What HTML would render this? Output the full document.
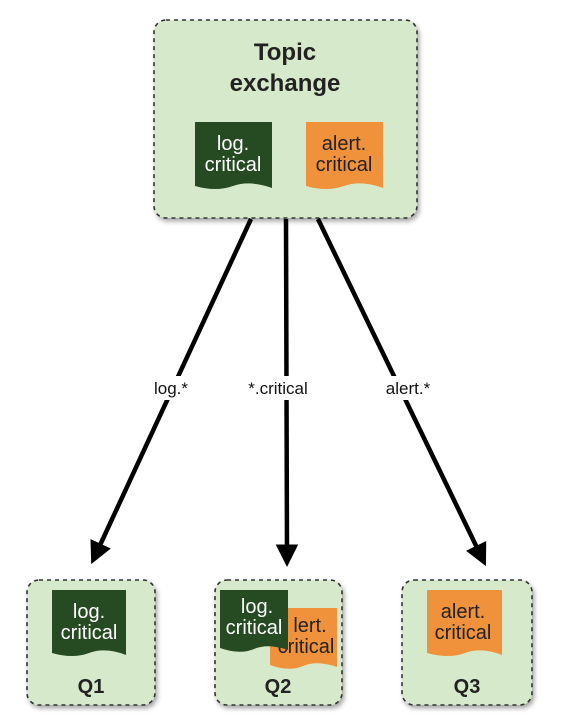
<!DOCTYPE html>
<html><head><style>
body{margin:0;background:#fff;width:570px;height:720px;overflow:hidden}
svg text{font-family:"Liberation Sans",Arial,sans-serif}
</style></head><body>
<svg width="570" height="720" viewBox="0 0 570 720">
<defs>
<filter id="sh" x="-10%" y="-10%" width="130%" height="130%"><feDropShadow dx="2" dy="3" stdDeviation="2.5" flood-color="#000" flood-opacity="0.35"/></filter>
<marker id="ah" markerWidth="5" markerHeight="5" refX="3" refY="2.5" orient="auto" markerUnits="strokeWidth"><path d="M0,0 L5,2.5 L0,5 z" fill="#000"/></marker>
</defs>
<g fill="#d6eacb" stroke="#333" stroke-width="1.6" stroke-dasharray="4,4" filter="url(#sh)">
<rect x="154" y="20" width="263" height="198" rx="12"/>
<rect x="27" y="580" width="128" height="125" rx="12"/>
<rect x="215" y="580" width="127" height="125" rx="12"/>
<rect x="402" y="580" width="130" height="125" rx="12"/>
</g>
<text x="285" y="60" font-size="24" font-weight="bold" text-anchor="middle" fill="#222">Topic</text>
<text x="285" y="91" font-size="24" font-weight="bold" text-anchor="middle" fill="#222">exchange</text>
<g font-size="20" text-anchor="middle">
<path d="M195,122 H272 V188 Q250,180 233,186 T195,186 Z" fill="#264a22"/>
<text x="233" y="150" fill="#fff">log.</text><text x="233" y="171" fill="#fff">critical</text>
<path d="M306,122 H383 V188 Q361,180 344,186 T306,186 Z" fill="#f0923b"/>
<text x="344" y="150" fill="#222">alert.</text><text x="344" y="171" fill="#222">critical</text>

<path d="M52,590 H126 V655 Q105,647 89,653 T52,653 Z" fill="#264a22"/>
<text x="89" y="618" fill="#fff">log.</text><text x="89" y="639" fill="#fff">critical</text>

<path d="M270,608 H337 V667 Q317,660 303,666 T270,665 Z" fill="#f0923b"/>
<text x="310" y="632" fill="#222">lert.</text><text x="306" y="653" fill="#222">critical</text>
<path d="M220,590 H288 V650 Q268,643 254,649 T220,648 Z" fill="#264a22"/>
<text x="257" y="613" fill="#fff">log.</text><text x="254" y="634" fill="#fff">critical</text>

<path d="M427,590 H502 V655 Q481,647 465,653 T427,653 Z" fill="#f0923b"/>
<text x="463" y="618" fill="#222">alert.</text><text x="463" y="639" fill="#222">critical</text>
</g>
<g font-size="20" font-weight="bold" text-anchor="middle" fill="#222">
<text x="91" y="693">Q1</text><text x="278" y="693">Q2</text><text x="467" y="693">Q3</text>
</g>
<g stroke="#000" stroke-width="4.5" marker-end="url(#ah)">
<line x1="251" y1="219" x2="95" y2="556"/>
<line x1="286" y1="219" x2="287" y2="558"/>
<line x1="318" y1="219" x2="482" y2="558"/>
</g>
<g font-size="17" text-anchor="middle" fill="#111">
<rect x="146" y="376" width="50" height="24" fill="#fff"/>
<text x="171" y="394">log.*</text>
<rect x="238" y="376" width="80" height="24" fill="#fff"/>
<text x="278" y="394">*.critical</text>
<rect x="375" y="376" width="66" height="24" fill="#fff"/>
<text x="408" y="394">alert.*</text>
</g>
</svg>
</body></html>
